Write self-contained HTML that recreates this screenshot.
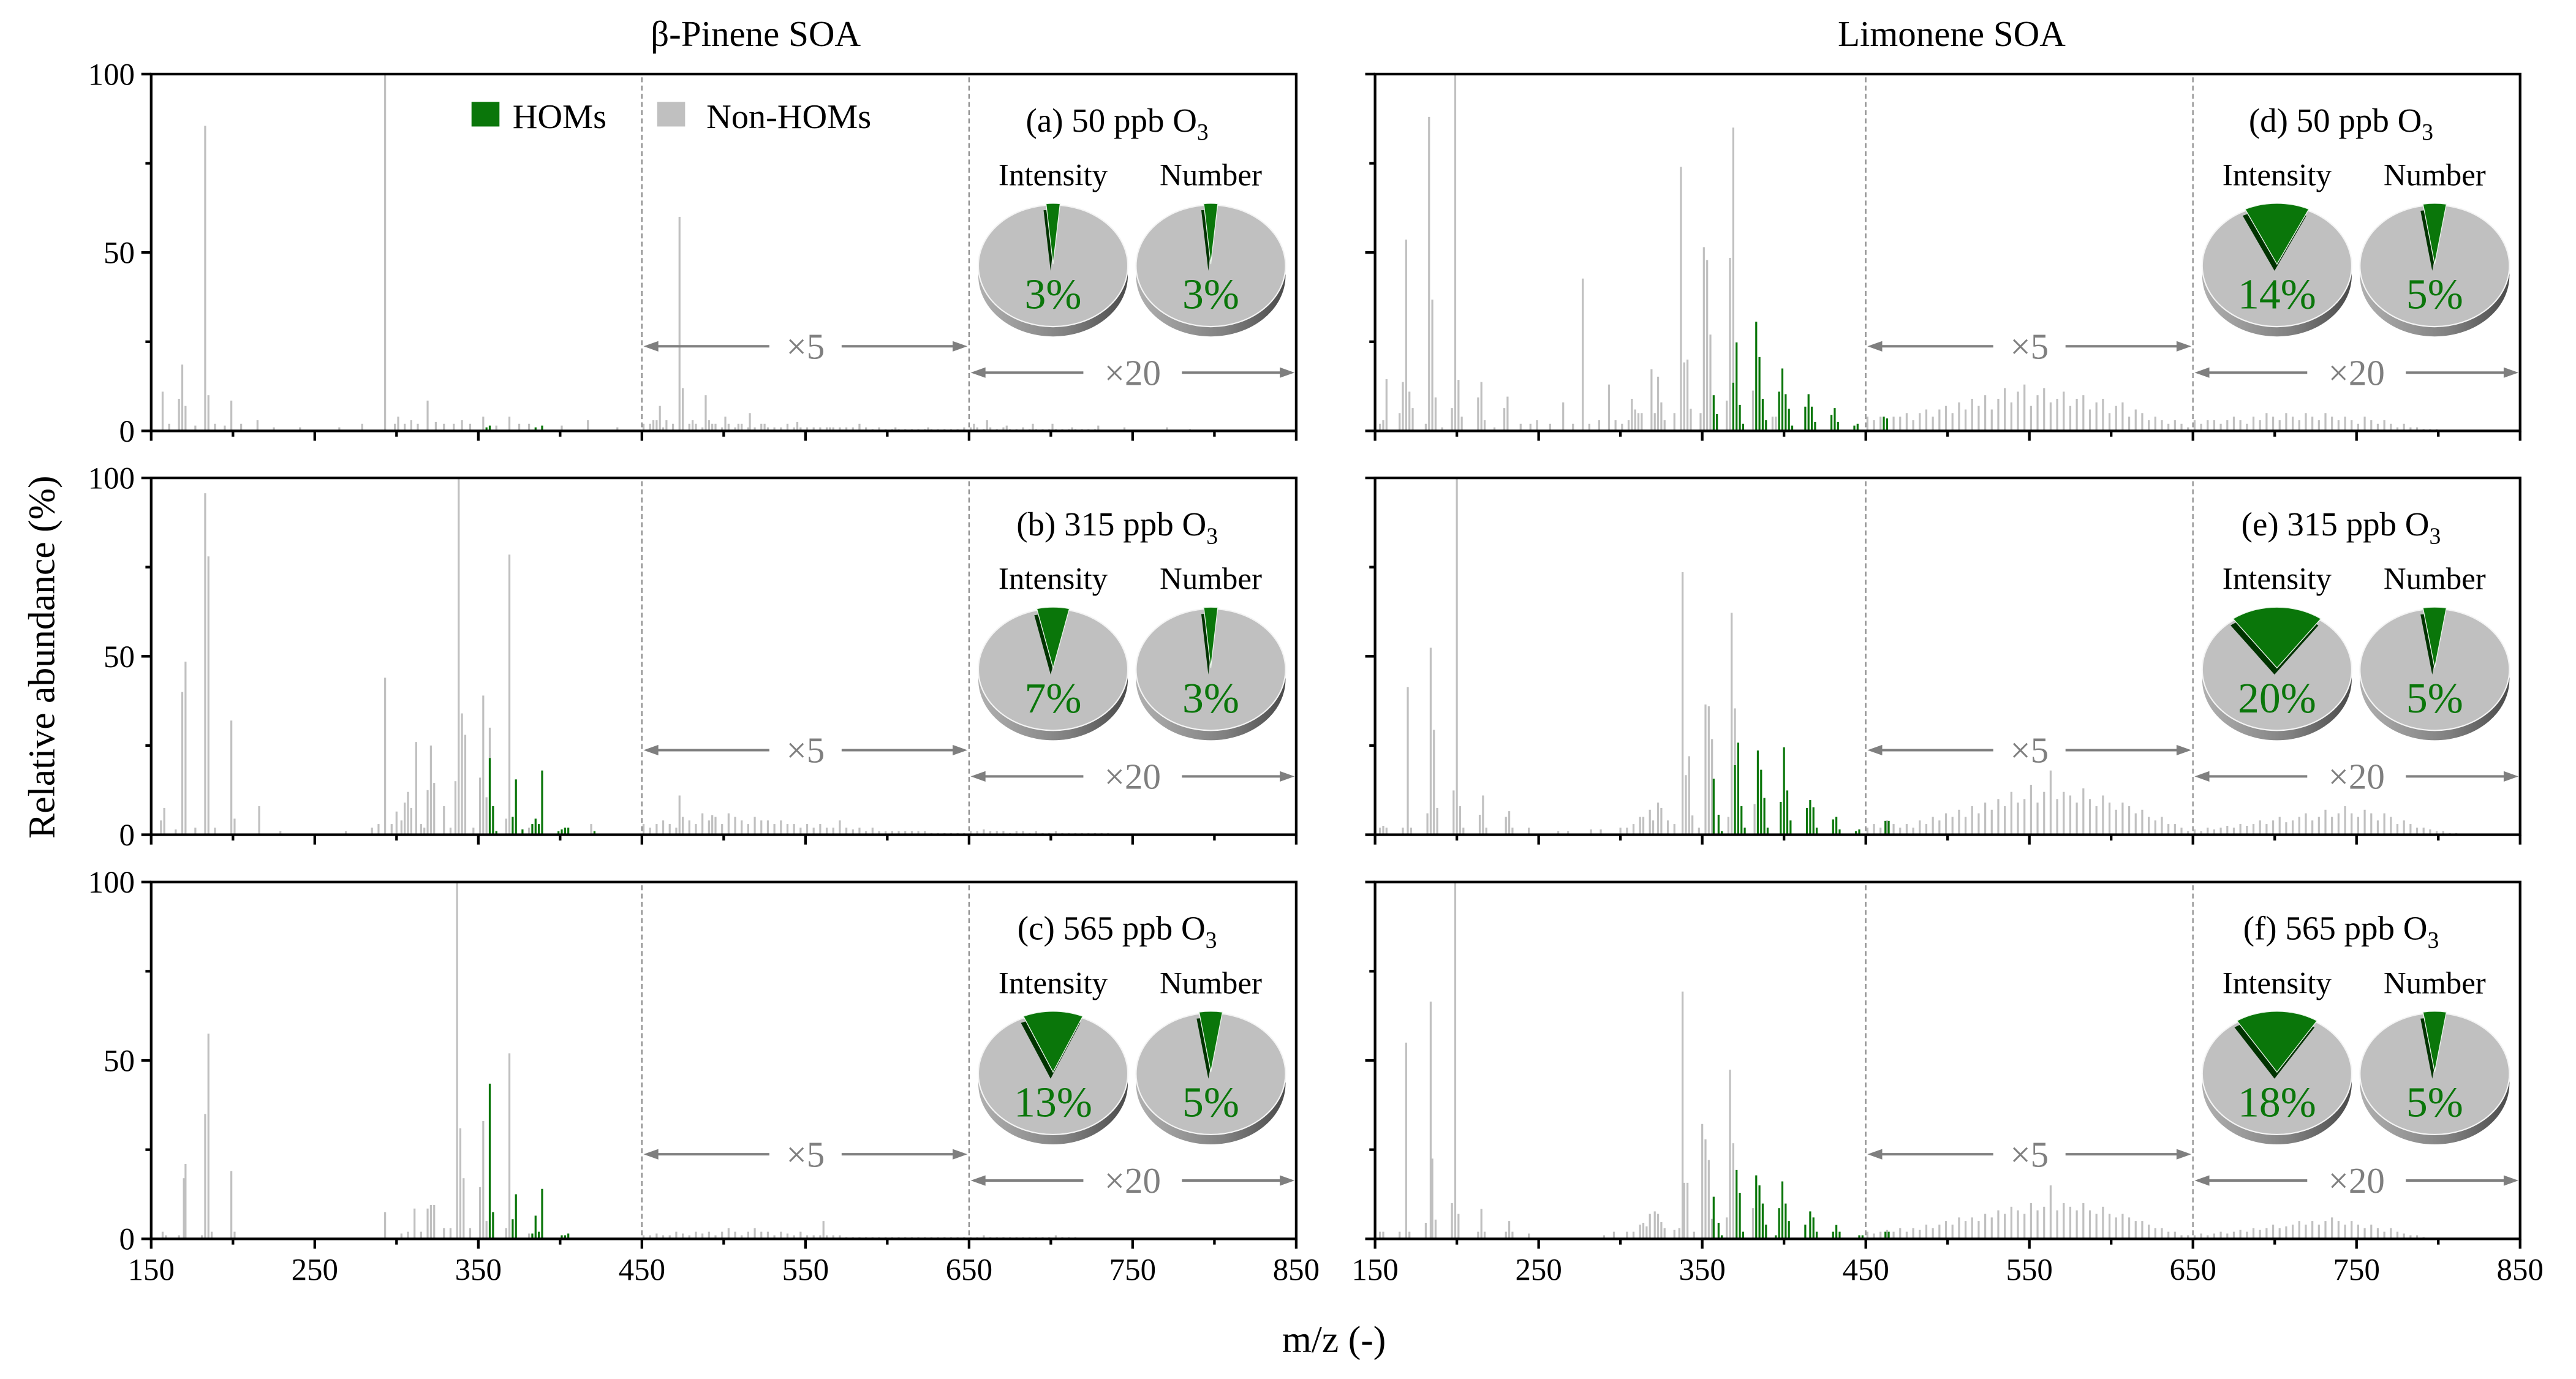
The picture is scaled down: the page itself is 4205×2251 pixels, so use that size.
<!DOCTYPE html>
<html><head><meta charset="utf-8"><title>SOA mass spectra</title>
<style>
html,body{margin:0;padding:0;background:#fff;}
svg{display:block;font-family:"Liberation Serif",serif;}
text{font-family:"Liberation Serif",serif;}
</style></head>
<body>
<svg id="fig" xmlns="http://www.w3.org/2000/svg" width="4205" height="2251" viewBox="0 0 1568 839.4" font-family="Liberation Serif, serif">
<defs>
<linearGradient id="rimGrad" x1="0" x2="1" y1="0" y2="0">
<stop offset="0" stop-color="#b0b0b0"/><stop offset="0.6" stop-color="#808080"/><stop offset="1" stop-color="#4a4a4a"/>
</linearGradient>
</defs>
<g id="layer"></g>
</svg>
<script>
// ---------- data (m/z categories, relative abundance values, HOM flags) ----------
const aGrayMz=[157,161,167,169,171,177,183,185,189,195,199,205,215,225,241,265,279,293,299,301,305,309,313,319,324,329,335,340,345,353,361,369,375,381,401,417,435,457,461,465,469,473,475,481,489,493,501,509,516,525,545,565,583,605,625,647,653,661,673,689,701,713,729,745,771,785];
const aGrayAb=[11,2,9,18.6,7,1.5,85.5,10,2,1.5,8.5,2,3,1,1,1,2,100,2,4,2,3,2,8.5,2.5,2,2,3,2,4,1.5,4,2,2,1.5,3,1,3,7,3,2,60,12,3,10,2,4,2,5,2,2.5,1,2,1,1,1,2,3,1.5,2,2,1,1.5,1,1,0.5];
const aHomMz=[355,357,385,389];
const aHomAb=[1,1.5,1,1.5];
const aX5=[2,2,3,1,0,0,0,2,2,1,3,2,1,2,1,2,1,1,2,1,1,1,2,1,1,1,1,1,1,1,1,1,1,1,1,0.5,1,0.5,0.5,0.5,0.5,0.5,0.5,0.5,0.5,0.5,0.5,0.5,0.5,0.5];
const aX20=[1,1,0.5,1,0.5,1,0.5,0.5,1,0.5,0.5,0.5,0.5,0.5,0.5,0.5,0.5,0.5,0.5,0.5,0,0,0,0,0,0,0,0,0,0,0,0,0,0,0,0,0,0,0,0,0,0,0];

const bGrayMz=[156,158,165,169,171,177,183,185,189,199,201,216,229,269,285,289,293,297,300,303,305,307,309,312,315,317,319,321,323,329,333,336,338,340,342,347,351,353,355,357,367,369,371,377,381,419,473,493];
const bGrayAb=[4,7.5,1.5,40,48.5,2,95.7,78,2,32,4.5,8,1,1,2,3,44,3,6.5,4,9,12,7.5,26,3,2,12.5,25,14.5,8,2,15,100,34,28,2,16,39,10.5,30,4.5,78.5,2,1.5,2,3,11,5.5];
const bHomMz=[357,359,361,371,373,377,383,385,387,389,399,401,403,405,421];
const bHomAb=[21.5,8,1,5,15.5,1.5,3,4.5,3,18,1,1.5,2,2,1];
const bX5=[3,2,3,4,3,2,5,4,3,6,4,5,3,6,5,4,3,5,4,4,3,4,3,3,2,3,2,3,2,2,4,2,1.5,2,1,2,1,1,1,1,1,1,1,1,0.5,0.5,0.5,0.5,0.5,0.5];
const bX20=[1,1,1.5,1,1,1,0.5,1,1,0.5,1,0.5,0.5,1,0.5,0.5,0.5,0.5,0.5,0.5,0.5,0.5,0,0,0,0,0,0,0,0,0,0,0,0,0,0,0,0,0,0,0,0,0];

const cGrayMz=[157,159,167,170,171,181,183,185,187,199,201,293,303,307,311,315,319,321,323,329,333,337,339,341,345,351,353,355,367,369,381,561];
const cGrayAb=[2,1,1,17,21,1,35,57.5,2,19,2,7.5,1.5,2,8.5,2,8.5,9.5,9.5,3,3,100,31,17,3,14.5,33,5,3,52,1.5,5];
const cHomMz=[357,359,371,373,383,385,387,389,401,403,405];
const cHomAb=[43.5,7.5,5.5,12.5,1.5,6.5,2,14,1,1,1.5];
const cX5=[1,1,1.5,1,1,2,1.5,1,2,1.5,2,1,2,3,2,1,2,3,2,2,1,2,1.5,1,2,1,1,1,1,1,1,0.5,0.5,0.5,0.5,0.5,0.5,0.5,0.5,0.5,0.5,0.5,0.5,0.5,0.5,0.5,0.5,0.5,0.5,0.5];
const cX20=[0.5,0.5,1,0.5,0.5,0.5,0.5,0.5,0.5,0.5,0.5,0.5,0.5,1,0.5,0.5,0.5,0,0,0,0,0,0,0,0,0,0,0,0,0,0,0,0,0,0,0,0,0,0,0,0,0,0];

const dGrayMz=[153,155,157,165,167,169,171,173,181,183,185,187,191,197,199,201,203,213,215,217,223,229,231,239,245,249,257,265,271,277,281,287,293,297,301,305,307,309,311,313,319,321,323,325,327,333,337,339,341,343,349,351,353,355,365,367,369,381,393,395];
const dGrayAb=[2,3,14.5,5,13.7,53.6,11,6.4,2,88,36.8,9.4,1,6.4,100,14.3,4,9.4,13.7,3,1,6.4,9.6,2,2,3,2,8,2,42.7,2,3,13,3,2,3,9,6,5,5,17.3,5,15.2,8,3,5,74,19.2,20,6.2,5,51.5,47.9,27,8.5,48.5,85,11.3,4,4];
const dHomMz=[357,359,369,371,373,375,383,385,387,389,397,399,401,403,405,413,415,417,419,429,431,433,443,445,461,463];
const dHomAb=[10,4.7,13.5,24.8,7.3,2,30.6,20.7,9,3,11,17.5,10.3,6.2,1.5,6.8,10.3,6.8,2.5,4.5,6.4,2.5,1.5,2,4,3.5];
const dX5=[4,3,4,3,4,4,5,3,5,6,4,6,7,5,8,6,9,7,10,6,9,12,8,11,13,7,10,12,8,9,11,7,9,10,6,8,9,5,7,8,4,6,5,3,4,3,2,3,2,1];
const dX20=[3,2,3,3,2,3,4,3,2,4,3,5,4,3,5,4,3,5,4,3,5,4,3,4,3,2,4,3,2,3,2,1,2,1,1,0.5,0.5,0.5,0,0,0,0,0];

const eGrayMz=[153,155,157,167,170,172,182,184,186,188,198,200,202,204,214,216,218,230,232,234,244,262,268,282,288,300,304,308,312,314,318,320,323,325,329,333,338,340,342,344,348,352,354,356,366,368,370,382];
const eGrayAb=[2,2.5,2,2,41.4,2,6,52.4,29.4,7.5,12.4,100,8,2,5.6,11,2,5,6.6,2,2,1,1,1.5,1.5,2,2,3,5,5,7,4,9,7.5,4,3,73.6,16.7,22,5.4,2,36.5,36,26.8,5,62.2,35.4,8.6];
const eHomMz=[357,360,362,370,372,374,376,384,386,388,390,398,400,402,404,414,416,418,420,430,432,434,444,446,462,464];
const eHomAb=[15.7,5.6,1,19.5,25.8,8,2,23.6,18.2,10.3,2,9.2,24.5,12.4,4,7.5,9.7,7.7,2,4.3,5,1.5,1,1.5,3.9,3.9];
const eX5=[2,3,2,4,3,2,3,2,4,3,5,4,6,5,7,5,8,6,9,7,10,8,12,9,10,14,9,12,18,10,12,11,9,13,10,8,11,9,7,9,8,6,7,5,4,5,3,3,2,1];
const eX20=[1.5,1,2,1.5,2,2.5,2,3,2.5,3,4,3,4,5,3.5,4,5,6,4,5,7,5,6,8,6,5,7,6,4,6,5,3,4,3,2,2,1.5,1,1,0.5,0.5,0,0];

const fGrayMz=[153,155,165,169,171,181,184,185,187,197,199,201,213,215,217,230,232,234,244,290,296,304,308,312,314,316,318,321,323,325,327,333,336,338,339,341,345,350,352,354,356,365,367,369,381];
const fGrayAb=[2,2,2,55,2,4.5,66.5,22.5,5.4,10,100,7,2,8.4,2,2,5,2,1.5,1,2,2,2,4,4.5,3.5,7,7.7,7,4.7,3,2.5,3,69.3,15.7,15.7,2,32.2,27.9,22.1,5.6,6,47.4,26.8,8.6];
const fHomMz=[357,360,362,371,373,375,383,385,387,389,395,397,399,401,403,413,416,418,420,430,432,434,446,448,462,464];
const fHomAb=[11.8,4.5,1,19.3,12.9,2,17.8,15,9.9,4,1,8.6,16.1,9.9,5,4,7.7,6,2,2,3.9,2,1,1,2,2];
const fX5=[2,1.5,2,2.5,2,3,2,3,2.5,4,3,4,5,4,6,5,6,5,7,6,8,7,9,8,7,10,8,9,15,8,10,9,8,10,8,7,9,7,6,7,6,5,5,4,3,3,2,2,1,1];
const fX20=[1,1.5,1,1.5,2,1.5,2,2.5,2,3,2.5,3,4,3,3.5,4,5,4,5,4,5,6,5,4,5,4,3,4,3,2,3,2,1.5,1,1,0.5,0,0,0,0,0,0,0];

// pie percentages: intensity fraction and number fraction of HOMs
const pieIntensity=[3,7,13,14,20,18];
const pieNumber=[3,3,5,5,5,5];
const panelLetters=["a","b","c","d","e","f"];
const panelOzone=["50","315","565","50","315","565"];
const xTickLabels=[150,250,350,450,550,650,750,850];
const yTickLabels=[0,50,100];

// ---------- layout ----------
const NS="http://www.w3.org/2000/svg";
const layer=document.getElementById('layer');
function mk(tag,attrs,parent){const e=document.createElementNS(NS,tag);for(const k in attrs)e.setAttribute(k,attrs[k]);(parent||layer).appendChild(e);return e;}
const colX=[92,837], W=697;
const rowTop=[45.1,290.9,536.9], H=217.2;
const GRAY="#c0c0c0", GREEN="#0a760a", ARROW="#7f7f7f";
const FONT='"Liberation Serif", serif';

const panels=[
 {c:0,r:0,gm:aGrayMz,ga:aGrayAb,hm:aHomMz,ha:aHomAb,x5:aX5,x20:aX20},
 {c:0,r:1,gm:bGrayMz,ga:bGrayAb,hm:bHomMz,ha:bHomAb,x5:bX5,x20:bX20},
 {c:0,r:2,gm:cGrayMz,ga:cGrayAb,hm:cHomMz,ha:cHomAb,x5:cX5,x20:cX20},
 {c:1,r:0,gm:dGrayMz,ga:dGrayAb,hm:dHomMz,ha:dHomAb,x5:dX5,x20:dX20},
 {c:1,r:1,gm:eGrayMz,ga:eGrayAb,hm:eHomMz,ha:eHomAb,x5:eX5,x20:eX20},
 {c:1,r:2,gm:fGrayMz,ga:fGrayAb,hm:fHomMz,ha:fHomAb,x5:fX5,x20:fX20}
];

function txt(x,y,s,size,anchor,fill,name){const t=mk('text',{x:x,y:y,'font-size':size,'text-anchor':anchor||'middle',fill:fill||'#000','font-family':FONT});t.textContent=s;


return t;}

// column titles
txt(460,28,"β-Pinene SOA",22,'middle','#000','title-beta-pinene');
txt(1188,28,"Limonene SOA",22,'middle','#000','title-limonene');
// axis titles
const yt=mk('text',{x:0,y:0,'font-size':23,'text-anchor':'middle','font-family':FONT,transform:'translate(33,400) rotate(-90)'});
yt.textContent="Relative abundance (%)";


txt(812,823,"m/z (-)",23,'middle','#000','x-axis-title');

panels.forEach((p,i)=>{
  const x0=colX[p.c], top=rowTop[p.r], bot=top+H;
  const xs=m=>x0+(m-150)*W/700;
  const ys=v=>bot-v/100*H;
  const g=mk('g',{});
  
  
  function bar(m,v,color,name){
    if(v<=0)return;
    const b=mk('rect',{x:xs(m)-0.6,y:ys(v),width:1.2,height:bot-ys(v),fill:color},g);
    
    
  }
  p.x5.forEach((v,k)=>bar(451+4*k,v,GRAY,'bar-nonhom'));
  p.x20.forEach((v,k)=>bar(651+4*k,v,GRAY,'bar-nonhom'));
  p.gm.forEach((m,k)=>bar(m,p.ga[k],GRAY,'bar-nonhom'));
  p.hm.forEach((m,k)=>bar(m,p.ha[k],GREEN,'bar-hom'));
  [450,650].forEach(m=>{const l=mk('line',{x1:xs(m),x2:xs(m),y1:top+2,y2:bot,stroke:'#888','stroke-width':0.8,'stroke-dasharray':'3,2'},g);
    
    });
  const fr=mk('rect',{x:x0,y:top,width:W,height:H,fill:'none',stroke:'#000','stroke-width':1.6},g);
  
  
  for(let m=150;m<=850;m+=50){const major=(m-150)%100===0;
    const t=mk('line',{x1:xs(m),x2:xs(m),y1:bot,y2:bot+(major?6:3.5),stroke:'#000','stroke-width':1.6},g);
    
    }
  for(let v=0;v<=100;v+=25){const major=v%50===0;
    const t=mk('line',{x1:x0,x2:x0-(major?6:3.5),y1:ys(v),y2:ys(v),stroke:'#000','stroke-width':1.6},g);
    
    }
  if(p.c===0) yTickLabels.forEach(v=>txt(x0-10,ys(v)+6.5,String(v),19,'end','#000','y-tick-label'));
  if(p.r===2) xTickLabels.forEach(v=>txt(xs(v),bot+25,String(v),19,'middle','#000','x-tick-label'));
  function arrow(m1,m2,y,label,name){
    const xa=xs(m1)+1,xb=xs(m2)-1,xm=(xa+xb)/2,gap=label.length>2?30:22;
    const ag=mk('g',{},g);
    
    
    mk('line',{x1:xa+7,x2:xm-gap,y1:y,y2:y,stroke:ARROW,'stroke-width':1.5},ag);
    mk('line',{x1:xm+gap,x2:xb-7,y1:y,y2:y,stroke:ARROW,'stroke-width':1.5},ag);
    mk('polygon',{points:`${xa},${y} ${xa+9},${y-3.2} ${xa+9},${y+3.2}`,fill:ARROW},ag);
    mk('polygon',{points:`${xb},${y} ${xb-9},${y-3.2} ${xb-9},${y+3.2}`,fill:ARROW},ag);
    const t=mk('text',{x:xm,y:y+7.5,'font-size':22,'text-anchor':'middle',fill:ARROW,'font-family':FONT},ag);
    t.textContent=label;
  }
  const cy=top+116.7;
  arrow(450,650,cy+49,"×5",'scale-arrow-x5');
  arrow(650,850,cy+65,"×20",'scale-arrow-x20');
  const lab=mk('text',{x:x0+588,y:top+35,'font-size':20.5,'text-anchor':'middle','font-family':FONT},g);
  
  
  lab.appendChild(document.createTextNode(`(${panelLetters[i]}) ${panelOzone[i]} ppb O`));
  const sub=mk('tspan',{dy:5,'font-size':14},lab); sub.textContent="3";
  function pie(cx,pct,title,name){
    const pg=mk('g',{},g);
    
    
    const rx=45.5,ry=37,th=6;
    mk('ellipse',{cx:cx,cy:cy+th,rx:rx,ry:ry,fill:'url(#rimGrad)'},pg);
    mk('rect',{x:cx-rx,y:cy,width:2*rx,height:th,fill:'url(#rimGrad)'},pg);
    mk('ellipse',{cx:cx,cy:cy,rx:rx,ry:ry,fill:'#c0c0c0',stroke:'#f4f4f4','stroke-width':0.8},pg);
    const a=2*Math.PI*pct/100;
    const pt=t=>[cx+rx*Math.sin(t),cy-ry*Math.cos(t)];
    const p1=pt(-a/2),p2=pt(a/2);
    const path=(dx,dy)=>`M${cx+dx},${cy+dy} L${p1[0]+dx},${p1[1]+dy} A${rx},${ry} 0 ${a>Math.PI?1:0} 1 ${p2[0]+dx},${p2[1]+dy} Z`;
    mk('path',{d:path(-1.5,3),fill:'#003300'},pg);
    const s=mk('path',{d:path(0,-1),fill:GREEN,stroke:'#e8f4e8','stroke-width':0.5},pg);
    
    
    const pt2=mk('text',{x:cx,y:cy+26,'font-size':26,'text-anchor':'middle',fill:GREEN,'font-family':FONT},pg);
    pt2.textContent=pct+"%";
    const tt=mk('text',{x:cx,y:cy-49,'font-size':19,'text-anchor':'middle','font-family':FONT},pg);
    tt.textContent=title;
  }
  pie(x0+549,pieIntensity[i],"Intensity",'pie-intensity');
  pie(x0+645,pieNumber[i],"Number",'pie-number');
});

const lg=mk('g',{});


const l1=mk('rect',{x:287,y:62,width:17,height:15,fill:GREEN},lg);


const lt1=mk('text',{x:312,y:78,'font-size':21,'font-family':FONT},lg); lt1.textContent="HOMs";


const l2=mk('rect',{x:400,y:62,width:17,height:15,fill:GRAY},lg);


const lt2=mk('text',{x:430,y:78,'font-size':21,'font-family':FONT},lg); lt2.textContent="Non-HOMs";


</script>
</body></html>
